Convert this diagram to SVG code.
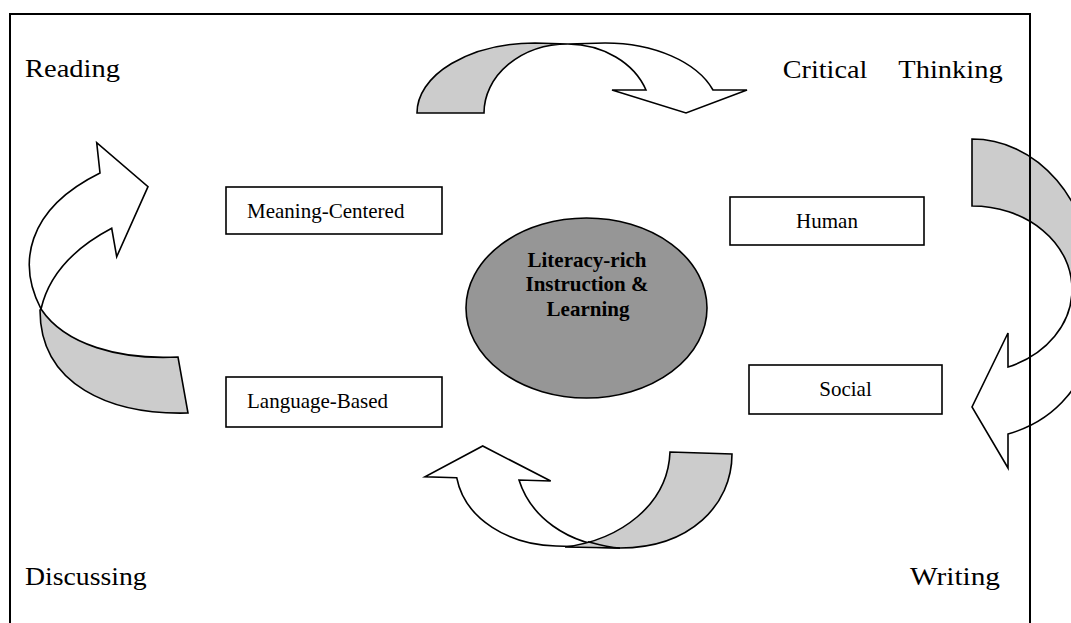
<svg xmlns="http://www.w3.org/2000/svg" width="1071" height="623" viewBox="0 0 1071 623">
<style>
.bg{fill:#ffffff}
.frame{fill:none;stroke:#000;stroke-width:2}
.box{fill:#fff;stroke:#000;stroke-width:1.6}
.hub{fill:#969696;stroke:#000;stroke-width:1.6}
.btxt{font-family:"Liberation Serif","Times New Roman",serif;font-size:21px;fill:#000}
.htxt{font-family:"Liberation Serif","Times New Roman",serif;font-size:21px;font-weight:bold;fill:#000;text-anchor:middle}
.ltxt{font-family:"Liberation Serif","Times New Roman",serif;font-size:25px;fill:#000}
.aw{fill:#fff;stroke:#000;stroke-width:1.6;stroke-linejoin:miter}
.ag{fill:#cccccc;stroke:#000;stroke-width:1.6;stroke-linejoin:miter}
.as{fill:none;stroke:#000;stroke-width:1.6}
</style>
<rect class="bg" x="0" y="0" width="1071" height="623"/>

<g id="connectors">
  <g id="arrow-top">
    <path class="ag" d="M417,113 A118,70 0 0 1 535,43 L568,44 A84,69 0 0 0 484,113 Z"/>
    <path class="aw" d="M568,44 L605,43 A114,70 0 0 1 713,90 L747,90 L686,113 L612,90 L646,90 A84,69 0 0 0 568,44 Z"/>
  </g>
  <g id="arrow-right">
    <path class="ag" d="M972,139 A120,141 0 0 1 1092,280 L1072,289 A100,83 0 0 0 972,206 Z"/>
    <path class="aw" d="M1090,335 A118,104 0 0 1 1008,434 L1008,468 L972,407 L1008,333 L1008,367 A100,83 0 0 0 1072,289 Z"/>
  </g>
  <g id="arrow-bottom">
    <path class="aw" d="M456.7,477.7 L425,476.7 L482.7,446 L550.7,481 L519,480 C530,515 565,545 620,548 L556,546 C510,545 465,520 456.7,477.7 Z"/>
    <path class="ag" d="M670,452 L732,454 C732,505 690,548 620,548 L565,547 C620,540 668,505 670,452 Z"/>
    <path class="as" d="M588,541.7 C600,545 610,547.5 620,548"/>
  </g>
  <g id="arrow-left">
    <path class="aw" d="M41,309 C18,265 25,210 100,173 L96.7,142.7 L148,186.7 L116.7,256.7 L111.7,228.3 C80,245 50,270 41,309 Z"/>
    <path class="ag" d="M41,309 C65,345 120,360 178,357 L188,413 C110,415 40,385 40,310 Z"/>
  </g>
</g>

<g id="node-center">
  <ellipse class="hub" cx="586.5" cy="308" rx="120.5" ry="90"/>
  <text class="htxt" x="587" y="266.7">Literacy-rich</text>
  <text class="htxt" x="587" y="290.7">Instruction &amp;</text>
  <text class="htxt" x="588" y="316">Learning</text>
</g>

<g id="node-meaning">
  <rect class="box" x="226" y="187" width="216" height="47"/>
  <text class="btxt" x="247" y="217.7">Meaning-Centered</text>
</g>
<g id="node-language">
  <rect class="box" x="226" y="377" width="216" height="50"/>
  <text class="btxt" x="247" y="408.3">Language-Based</text>
</g>
<g id="node-human">
  <rect class="box" x="730" y="197" width="194" height="48"/>
  <text class="btxt" x="827" y="227.7" text-anchor="middle">Human</text>
</g>
<g id="node-social">
  <rect class="box" x="749" y="365" width="193" height="49"/>
  <text class="btxt" x="845.5" y="396" text-anchor="middle">Social</text>
</g>

<g id="node-reading">
  <text class="ltxt" x="25" y="77.3" textLength="95" lengthAdjust="spacingAndGlyphs">Reading</text>
</g>
<g id="node-critical-thinking">
  <text class="ltxt" y="77.7"><tspan x="782.7" textLength="84.6" lengthAdjust="spacingAndGlyphs">Critical</tspan><tspan x="898.3" textLength="104.4" lengthAdjust="spacingAndGlyphs">Thinking</tspan></text>
</g>
<g id="node-discussing">
  <text class="ltxt" x="25" y="585" textLength="121.7" lengthAdjust="spacingAndGlyphs">Discussing</text>
</g>
<g id="node-writing">
  <text class="ltxt" x="910" y="585" textLength="90" lengthAdjust="spacingAndGlyphs">Writing</text>
</g>

<rect id="frame" class="frame" x="10" y="14" width="1020" height="630"/>
</svg>
